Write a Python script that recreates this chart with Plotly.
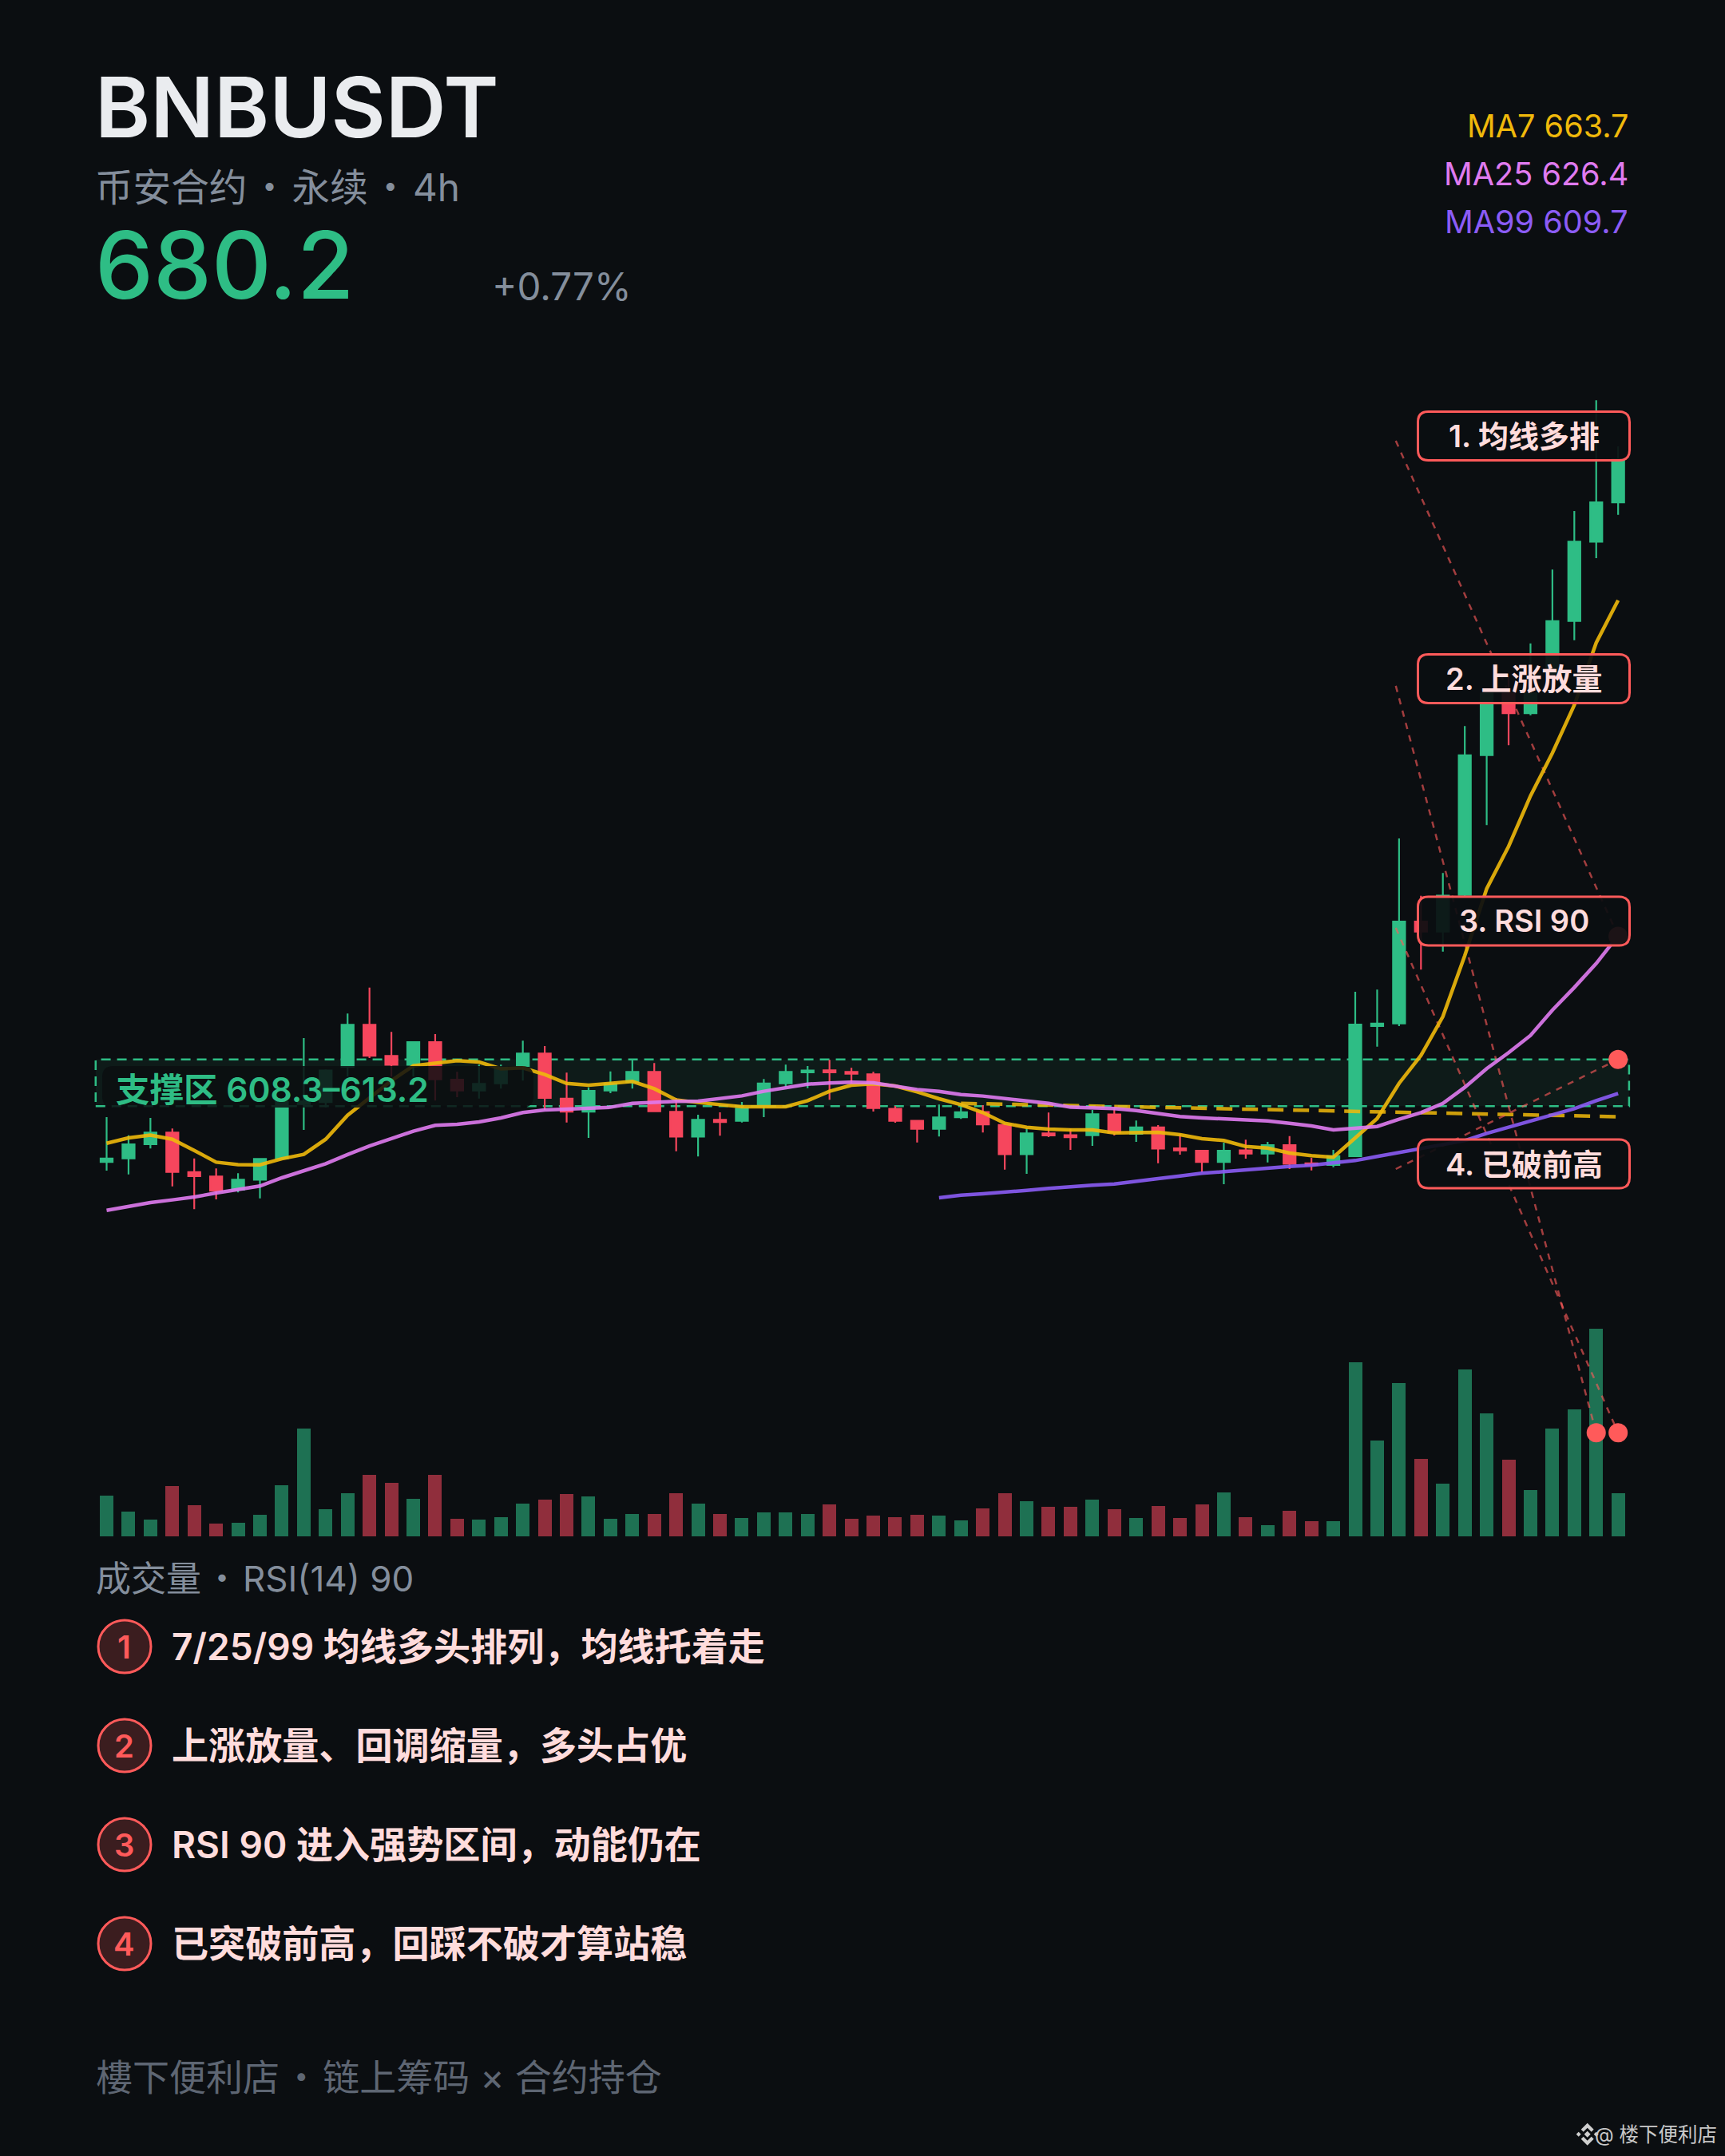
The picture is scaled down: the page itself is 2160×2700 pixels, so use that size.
import plotly.graph_objects as go

# ---------- data ----------
open_px = [602.45,602.83,604.31,605.54,601.39,600.94,599.55,600.61,602.83,608.52,608.74,612.42,616.83,613.57,612.65,615.01,611.08,609.94,610.69,612.51,613.82,609.10,607.72,609.94,
           610.83,611.90,607.72,605.12,606.88,606.76,608.33,610.69,611.84,612.06,611.90,611.64,608.02,606.76,605.93,607.15,607.68,606.34,603.28,605.46,605.26,605.26,607.43,
           605.40,606.09,603.89,603.64,602.45,603.67,603.33,604.23,602.31,602.14,603.06,616.69,616.96,627.64,626.58,630.42,645.05,651.53,649.44,653.64,659.10,667.41,671.53]
high_px = [607.15,605.26,607.07,605.96,602.83,601.78,601.28,602.81,608.74,615.43,612.15,618.00,620.72,616.08,615.10,615.85,611.90,612.65,612.65,615.16,614.60,611.81,610.27,611.95,
           613.15,612.82,609.16,607.41,607.66,608.74,611.14,612.65,612.51,613.15,612.31,611.90,608.33,606.85,608.47,608.33,608.41,606.51,605.96,607.63,605.96,607.91,608.05,
           606.80,606.32,605.40,603.64,604.48,604.79,604.56,605.17,602.89,603.73,620.28,620.51,636.33,630.34,632.71,648.10,651.55,653.33,656.76,664.49,670.61,682.21,677.39]
low_px = [601.55,601.16,603.87,599.91,597.51,598.54,599.27,598.65,602.81,605.82,608.18,611.39,613.34,611.39,611.39,608.89,609.25,609.10,610.14,610.98,607.91,606.59,604.98,609.66,
          610.14,607.77,603.58,603.03,605.21,606.59,607.15,610.36,610.19,608.97,610.69,607.74,606.57,604.50,605.12,606.96,605.54,601.66,601.22,605.06,603.73,604.15,605.23,
          604.56,602.33,603.23,601.39,600.13,602.81,602.41,601.72,601.58,601.91,603.06,614.54,616.69,622.60,624.49,630.30,637.73,646.09,649.24,653.40,657.09,665.68,670.22]
close_px = [602.81,604.31,605.54,601.41,600.97,599.46,600.61,602.78,608.74,608.80,612.03,616.83,613.59,612.65,615.01,611.11,609.94,610.64,612.36,613.82,609.16,607.72,609.91,610.64,
            611.90,607.77,605.12,606.88,606.65,608.05,610.67,611.90,612.03,611.84,611.70,608.10,606.76,605.93,607.13,607.66,606.40,603.28,605.46,605.23,605.06,607.46,605.54,
            606.09,603.87,603.67,602.45,603.64,603.33,604.23,602.28,602.14,603.06,616.85,616.96,627.64,626.58,630.34,645.05,651.53,649.44,651.53,659.10,667.41,671.53,676.05]
ma7 = [604.42,604.98,605.28,604.84,603.67,602.44,602.19,602.16,602.80,603.25,604.84,607.35,609.16,610.97,612.53,612.78,613.06,612.92,612.22,612.31,611.61,610.69,610.50,610.69,
       610.89,610.13,608.96,608.69,608.46,608.24,608.24,608.24,608.88,609.86,610.50,610.64,610.41,609.80,609.08,608.46,607.63,606.51,606.09,605.90,605.81,605.81,605.51,
       605.54,605.57,605.32,604.90,604.71,604.09,603.92,603.39,603.12,602.95,604.98,607.01,610.69,613.62,617.69,624.07,631.07,635.50,640.79,645.28,650.30,656.82,661.28]
ma25 = [597.4,597.82,598.21,598.49,598.79,599.21,599.55,599.94,600.8,601.5,602.28,603.23,604.14,604.9,605.68,606.29,606.4,606.65,607.07,607.63,607.91,607.99,608.05,608.19,608.6,608.74,608.8,608.83,609.08,609.38,609.86,610.28,610.61,610.72,610.81,610.75,610.42,610.05,609.86,609.52,609.36,609.11,608.88,608.6,608.19,608.13,608.05,607.85,607.57,607.21,607.07,606.96,606.85,606.76,606.51,606.24,605.82,605.96,606.18,606.93,607.63,608.6,610.28,612.23,613.9,615.71,618.36,620.73,623.24,626.16]
ma99 = [598.71,598.99,599.13,599.27,599.49,599.69,599.88,600.02,600.16,600.47,600.72,600.99,601.28,601.44,601.64,601.86,602.0,602.11,602.33,602.61,603.03,603.45,603.87,604.23,604.7,605.45,606.1,606.79,607.35,608.05,608.88,609.64]
ma99_start = 38
volume = [51.3,31.3,21.3,63,39.3,16.3,17,26.7,63.7,134.7,33.7,54.3,77,67.3,47,77,22.3,20.7,24.3,41.3,46,52.7,49.7,22.3,27.7,28,53.7,41.3,28.3,23.3,29.7,30.3,27.7,40.3,22.3,26.3,
          24,27,25.7,20,35,54.3,43.7,36.7,36.7,46,33.7,23.3,37.7,22.7,40,54.7,23.7,14,32.3,18.7,18.7,218,120,191.7,97.3,65.7,208.7,153.7,96,58,134.7,159,260,53.7]
vol_up = [1,1,1,0,0,0,1,1,1,1,1,1,0,0,1,0,0,1,1,1,0,0,1,1,1,0,0,1,0,1,1,1,1,0,0,0,0,0,1,1,0,0,1,0,0,1,0,1,0,0,0,1,0,1,0,0,1,1,1,1,0,1,1,1,0,1,1,1,1,1]
support_low, support_high = 608.3, 613.2
prior_x, prior_y = [39, 69], [608.6, 607.2]
conn_x = [[58.85, 69], [58.85, 68], [58.85, 69], [58.85, 69]]
conn_y = [[677.97, 626.1], [652.31, 574.1], [626.97, 574.1], [601.72, 613.2]]
labels = ["1. 均线多排", "2. 上涨放量", "3. RSI 90", "4. 已破前高"]
points = ["7/25/99 均线多头排列，均线托着走", "上涨放量、回调缩量，多头占优", "RSI 90 进入强势区间，动能仍在", "已突破前高，回踩不破才算站稳"]
ma_labels = ["MA7 663.7", "MA25 626.4", "MA99 609.7"]

# ---------- style ----------
W, H = 2160, 2700
BG = "#0b0e11"; UP = "#2ebd85"; DN = "#f6465d"; GREY = "#848e9c"; ACC = "#ff5a5a"; PALE = "#ffdcdc"
C7, C25, C99 = "#f0b90b", "#e07bf0", "#8b5cf6"
FONT = "Inter, 'Noto Sans CJK SC', sans-serif"
x_idx = list(range(len(close_px)))
X0, XS = 133.5, 27.43          # pixel position of the first candle, and the candle pitch
Y0, YS = 1326.7, 11.96         # pixel position of the zone top, and pixels per price unit
VB = 1924                      # pixel row of the volume baseline
xr = [(0 - X0) / XS, (W - X0) / XS]
yr = [support_high + (Y0 - H) / YS, support_high + Y0 / YS]
vr = [VB - H, VB]
px = lambda x: x / W
py = lambda y: 1 - y / H

def rrect(x0, y0, x1, y1, r):
    a, b, c, d = px(x0), py(y0), px(x1), py(y1)
    rx, ry = r / W, r / H
    return (f"M{a+rx},{b} L{c-rx},{b} Q{c},{b} {c},{b-ry} L{c},{d+ry} Q{c},{d} {c-rx},{d} "
            f"L{a+rx},{d} Q{a},{d} {a},{d+ry} L{a},{b-ry} Q{a},{b} {a+rx},{b} Z")

def poly(pts):
    return "M" + " L".join(f"{px(x)},{py(y)}" for x, y in pts) + " Z"

fig = go.Figure()
fig.add_bar(x=x_idx, y=volume, width=0.62, yaxis="y",
            marker=dict(color=[UP if u else DN for u in vol_up], opacity=0.57, line_width=0), showlegend=False, hoverinfo="skip")
fig.add_candlestick(x=x_idx, open=open_px, high=high_px, low=low_px, close=close_px, yaxis="y2", whiskerwidth=0,
                    increasing=dict(line=dict(color=UP, width=2.2), fillcolor=UP),
                    decreasing=dict(line=dict(color=DN, width=2.2), fillcolor=DN), showlegend=False, hoverinfo="skip")
fig.add_scatter(x=prior_x, y=prior_y, yaxis="y2", mode="lines", opacity=0.85,
                line=dict(color=C7, width=4.5, dash="20px,12px"), showlegend=False, hoverinfo="skip")
for cx, cy in zip(conn_x, conn_y):
    fig.add_scatter(x=cx, y=cy, yaxis="y2", mode="lines", line=dict(color="rgba(255,90,90,0.62)", width=2.5, dash="8px,8px"),
                    showlegend=False, hoverinfo="skip")
fig.add_scatter(x=x_idx, y=ma7, yaxis="y2", mode="lines", opacity=0.9, line=dict(color=C7, width=4.5), showlegend=False, hoverinfo="skip")
fig.add_scatter(x=x_idx, y=ma25, yaxis="y2", mode="lines", opacity=0.9, line=dict(color=C25, width=4.5), showlegend=False, hoverinfo="skip")
fig.add_scatter(x=x_idx[ma99_start:], y=ma99, yaxis="y2", mode="lines", opacity=0.9, line=dict(color=C99, width=4.5), showlegend=False, hoverinfo="skip")
fig.add_scatter(x=[c[-1] for c in conn_x], y=[c[-1] for c in conn_y], yaxis="y2", mode="markers",
                marker=dict(color=ACC, size=24, line_width=0), showlegend=False, hoverinfo="skip")

shapes = [dict(type="rect", xref="x", yref="y2", x0=-0.5, x1=69.5, y0=support_low, y1=support_high, layer="below",
               fillcolor="rgba(46,189,133,0.08)", line=dict(color=UP, width=2.5, dash="12px,8px")),
          dict(type="path", xref="paper", yref="paper", path=rrect(128, 1335, 668, 1387, 14), layer="above",
               fillcolor="rgba(11,14,17,0.85)", line_width=0)]
for ly in [546, 850, 1153.5, 1457.5]:
    shapes.append(dict(type="path", xref="paper", yref="paper", path=rrect(1775.5, ly - 30.5, 2040.5, ly + 30.5, 13), layer="above",
                       fillcolor="rgba(11,14,17,0.93)", line=dict(color=ACC, width=3)))
rows = [2062, 2186, 2310, 2434]
for ry in rows:
    shapes.append(dict(type="circle", xref="paper", yref="paper", x0=px(123), x1=px(189), y0=py(ry + 33), y1=py(ry - 33),
                       fillcolor="rgba(255,90,90,0.2)", line=dict(color=ACC, width=3)))
# watermark logo
lx, ly = 1987.7, 2672.7
logo = [[(lx, ly-4), (lx+4, ly), (lx, ly+4), (lx-4, ly)],
        [(lx-11, ly-3), (lx-8, ly), (lx-11, ly+3), (lx-14, ly)],
        [(lx+11, ly-3), (lx+14, ly), (lx+11, ly+3), (lx+8, ly)],
        [(lx, ly-14), (lx+8, ly-6), (lx+5, ly-3), (lx, ly-8), (lx-5, ly-3), (lx-8, ly-6)],
        [(lx, ly+14), (lx+8, ly+6), (lx+5, ly+3), (lx, ly+8), (lx-5, ly+3), (lx-8, ly+6)]]
for p in logo:
    shapes.append(dict(type="path", xref="paper", yref="paper", path=poly(p), fillcolor="#cfcfcf", line_width=0))

def text(s, x, y, size, color, anchor="left", weight=400):
    return dict(text=s, x=px(x), y=py(y), xref="paper", yref="paper", xanchor=anchor, yanchor="middle", showarrow=False,
                font=dict(family=FONT, size=size, color=color, weight=weight))

hs = "\u200a"
ann = [text("BNBUSDT", 117, 134, 105, "#eaecef", weight=600),
       text(f"币安合约{hs}・{hs}永续{hs}・{hs}4h", 117, 235, 47.6, GREY),
       text("680.2", 117, 332, 116, UP, weight=500),
       text("+0.77%", 614, 359, 47.5, GREY),
       text(ma_labels[0], 2041, 158, 39.6, C7, "right"),
       text(ma_labels[1], 2041, 218, 39.6, C25, "right"),
       text(ma_labels[2], 2041, 278, 39.6, C99, "right"),
       text("支撑区 608.3–613.2", 143, 1364, 42.5, UP, weight=600),
       text(f"成交量{hs}・{hs}RSI(14) 90", 118, 1977, 44, GREY),
       text(f"樓下便利店{hs}・{hs}链上筹码 × 合约持仓", 118, 2601, 46, "#5e6673"),
       text("@ 楼下便利店", 2152, 2673, 24.5, "#c8c8c8", "right")]
for s, ly_ in zip(labels, [546, 850, 1153.5, 1457.5]):
    ann.append(text(s, 1908, ly_, 38, PALE, "center", 600))
for i, (s, ry) in enumerate(zip(points, rows)):
    ann.append(text(str(i + 1), 156, ry, 40, ACC, "center", 600))
    ann.append(text(s, 213, ry, 46.1, PALE, weight=600))

axis_off = dict(visible=False, showgrid=False, zeroline=False, fixedrange=True)
fig.update_layout(width=W, height=H, margin=dict(l=0, r=0, t=0, b=0, pad=0), paper_bgcolor=BG, plot_bgcolor=BG,
                  showlegend=False, boxgap=0.45, boxgroupgap=0, bargap=0, shapes=shapes, annotations=ann,
                  xaxis=dict(range=xr, domain=[0, 1], rangeslider=dict(visible=False), **axis_off),
                  yaxis=dict(range=vr, domain=[0, 1], **axis_off),
                  yaxis2=dict(range=yr, overlaying="y", side="left", **axis_off))
fig.write_html("out.html", config={"displayModeBar": False},
               post_script="document.body.style.margin='0';document.body.style.background='#0b0e11';")
